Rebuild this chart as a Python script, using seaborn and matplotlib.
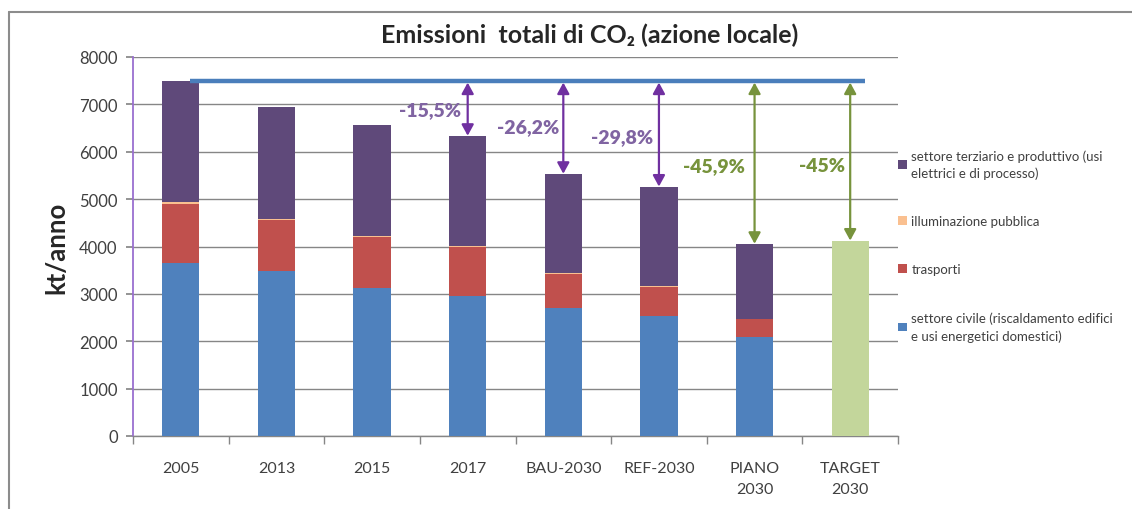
import matplotlib
matplotlib.use("Agg")
import matplotlib.pyplot as plt
from matplotlib.lines import Line2D
from matplotlib.patches import Patch
import numpy as np
import pandas as pd
import seaborn as sns

# ---- data (kt CO2 / anno) ----
categories = ["2005", "2013", "2015", "2017", "BAU-2030", "REF-2030", "PIANO\n2030", "TARGET\n2030"]
civile = [3650, 3490, 3120, 2960, 2700, 2530, 2100, 0]
trasporti = [1250, 1060, 1080, 1030, 720, 620, 380, 0]
illuminazione = [30, 20, 15, 20, 20, 10, 0, 0]
terziario = [2570, 2380, 2355, 2327.5, 2095, 2105, 1577.5, 0]
target = [0, 0, 0, 0, 0, 0, 0, 4125]

baseline = 7500  # emissioni 2005
pct_labels = ["-15,5%", "-26,2%", "-29,8%", "-45,9%", "-45%"]
pct_idx = [3, 4, 5, 6, 7]

# ---- styling ----
sns.set_theme(style="white")
plt.rcParams["font.family"] = ["Lato", "DejaVu Sans"]

C_CIV = "#4f81bd"
C_TRA = "#c0504d"
C_ILL = "#fac090"
C_TER = "#5f497a"
C_TGT = "#c3d69b"
C_LINE = "#4a7ebb"
C_ARR_P = "#7030a0"
C_TXT_P = "#8064a2"
C_GRN = "#77933c"
TXT = "#404040"

fig = plt.figure(figsize=(11.32, 5.10), dpi=100)
ax = fig.add_axes([133 / 1132, 1 - 437 / 510, (898 - 133) / 1132, (437 - 58) / 510])

civ = np.array(civile, dtype=float)
tra = civ + np.array(trasporti, dtype=float)
ill = tra + np.array(illuminazione, dtype=float)
ter = ill + np.array(terziario, dtype=float)
tgt = np.array(target, dtype=float)
totals = ter + tgt

df = pd.DataFrame({"cat": categories, "civ": civ, "tra": tra, "ill": ill, "ter": ter, "tgt": tgt})

bw = 0.39
for col, colr in [("ter", C_TER), ("ill", C_ILL), ("tra", C_TRA), ("civ", C_CIV), ("tgt", C_TGT)]:
    sns.barplot(data=df, x="cat", y=col, order=categories, color=colr, saturation=1,
                width=bw, linewidth=0, ax=ax, zorder=3)

ax.set_xlim(-0.5, len(categories) - 0.5)
ax.set_ylim(0, 8000)
ax.set_yticks(np.arange(0, 8001, 1000))
ax.grid(axis="y", color="#868686", linewidth=1.0, zorder=0)
ax.grid(axis="x", visible=False)
ax.set_axisbelow(True)

for s in ["top", "right"]:
    ax.spines[s].set_visible(False)
ax.spines["left"].set_color("#9a6fd0")
ax.spines["left"].set_linewidth(1.3)
ax.spines["bottom"].set_color("#868686")
ax.spines["bottom"].set_linewidth(1.0)

ax.set_xlabel("")
ax.set_ylabel("kt/anno", fontsize=18.5, fontweight="bold", color="#262626", labelpad=8)
ax.tick_params(axis="y", which="major", length=5, color="#868686", direction="out",
               labelsize=12, labelcolor=TXT, pad=6, left=True)
ax.tick_params(axis="x", which="major", length=0, labelsize=11.5, labelcolor=TXT, pad=18)
ax.set_xticks(np.arange(-0.5, len(categories), 1.0), minor=True)
ax.tick_params(axis="x", which="minor", length=6, color="#868686", direction="out", bottom=True)
for lab in ax.get_xticklabels():
    lab.set_linespacing(1.6)

# reference line at 2005 level
ax.plot([0.096, 7.157], [baseline, baseline], color=C_LINE, linewidth=3.2, zorder=4,
        solid_capstyle="butt")

# reduction arrows and labels
label_pos = [(2.61, 6900), (3.63, 6540), (4.61, 6310), (5.57, 5700), (6.70, 5720)]
for i, lab, (lx, ly) in zip(pct_idx, pct_labels, label_pos):
    green = i >= 6
    ac = C_GRN if green else C_ARR_P
    tc = C_GRN if green else C_TXT_P
    x = i
    ax.annotate("", xy=(x, totals[i]), xytext=(x, baseline - 40),
                arrowprops=dict(arrowstyle="<|-|>,head_length=0.55,head_width=0.3",
                                color=ac, lw=1.6, shrinkA=0, shrinkB=0),
                zorder=5)
    ax.text(lx, ly, lab, color=tc, fontsize=14, fontweight="heavy", ha="center", va="center",
            zorder=6)

# title
fig.text(590 / 1132, 1 - 35 / 510, "Emissioni  totali di CO\u2082 (azione locale)",
         fontsize=18, fontweight="bold", color="#262626", ha="center", va="center")

# legend
handles = [Patch(facecolor=C_TER, edgecolor="none"),
           Patch(facecolor=C_ILL, edgecolor="none"),
           Patch(facecolor=C_TRA, edgecolor="none"),
           Patch(facecolor=C_CIV, edgecolor="none")]
labels = ["settore terziario e produttivo (usi\nelettrici e di processo)",
          "illuminazione pubblica",
          "trasporti",
          "settore civile (riscaldamento edifici\ne usi energetici domestici)"]
leg = fig.legend(handles, labels, loc="upper left", bbox_to_anchor=(898 / 1132, 1 - 150 / 510),
                 frameon=False, fontsize=9.5, handlelength=0.65, handleheight=0.65,
                 handletextpad=0.35, labelspacing=2.75, borderaxespad=0, borderpad=0)
for t in leg.get_texts():
    t.set_color(TXT)
    t.set_linespacing(1.45)

# chart frame
fig.add_artist(Line2D([9 / 1132, 1.0], [1 - 13 / 510, 1 - 13 / 510], color="#8c8c8c", lw=1.5,
                      transform=fig.transFigure))
fig.add_artist(Line2D([9 / 1132, 9 / 1132], [0.0, 1 - 13 / 510], color="#8c8c8c", lw=1.5,
                      transform=fig.transFigure))

fig.savefig("out.png", dpi=100)
